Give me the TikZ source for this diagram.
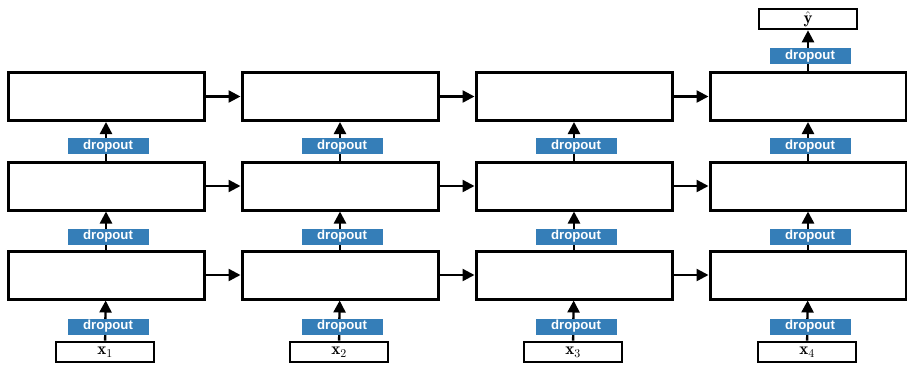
\documentclass[tikz,border=0pt]{standalone}
\usepackage{fix-cm}
\usepackage{fontspec}
\newfontfamily\labelfont{Liberation Sans}
\usetikzlibrary{arrows.meta}
\definecolor{dropblue}{RGB}{53,126,184}
\begin{document}
\begin{tikzpicture}[x=1pt,y=-1pt,
  cell/.style={draw,line width=3pt,minimum width=196pt,minimum height=48pt,inner sep=0pt,fill=white},
  io/.style={draw,line width=2.6pt,minimum width=98pt,minimum height=20pt,inner sep=0pt,font=\fontsize{17}{19}\selectfont},
  drop/.style={fill=dropblue,text=white,font=\labelfont\bfseries\fontsize{13.2}{14}\selectfont,minimum width=81pt,minimum height=16pt,inner sep=0pt},
  conn/.style={line width=2.4pt,-{Triangle[length=12pt,width=12pt]}}]
\useasboundingbox (0,0) rectangle (907,364);
% cells
\foreach \i/\x in {1/106,2/340,3/574,4/808}{
  \node[cell] (r1c\i) at (\x,96.5) {};
  \node[cell] (r2c\i) at (\x,186) {};
  \node[cell] (r3c\i) at (\x,275) {};
}
\node[io] (in1) at (105,352) {$\mathbf{x}_1$};
\node[io] (in2) at (339,352) {$\mathbf{x}_2$};
\node[io] (in3) at (573,352) {$\mathbf{x}_3$};
\node[io] (in4) at (807,352) {$\mathbf{x}_4$};
\node[io] (out) at (808,19) {$\hat{\mathbf{y}}$};
% horizontal connectors
\foreach \r in {1,2,3}{
  \draw[conn] (r\r c1) -- (r\r c2);
  \draw[conn] (r\r c2) -- (r\r c3);
  \draw[conn] (r\r c3) -- (r\r c4);
}
% vertical connectors
\foreach \i in {1,2,3,4}{
  \draw[conn] (in\i) -- (r3c\i);
  \draw[conn] (r3c\i) -- (r2c\i);
  \draw[conn] (r2c\i) -- (r1c\i);
}
\draw[conn] (r1c4) -- (out);
% dropout labels
\foreach \i/\x in {1/108,2/342,3/576,4/810}{
  \node[drop] (d1c\i) at (\x,146) {dropout};
  \node[drop] (d2c\i) at (\x,236.5) {dropout};
  \node[drop] (d3c\i) at (\x,326.5) {dropout};
}
\node[drop] (d0) at (810,56) {dropout};
\end{tikzpicture}
\end{document}
